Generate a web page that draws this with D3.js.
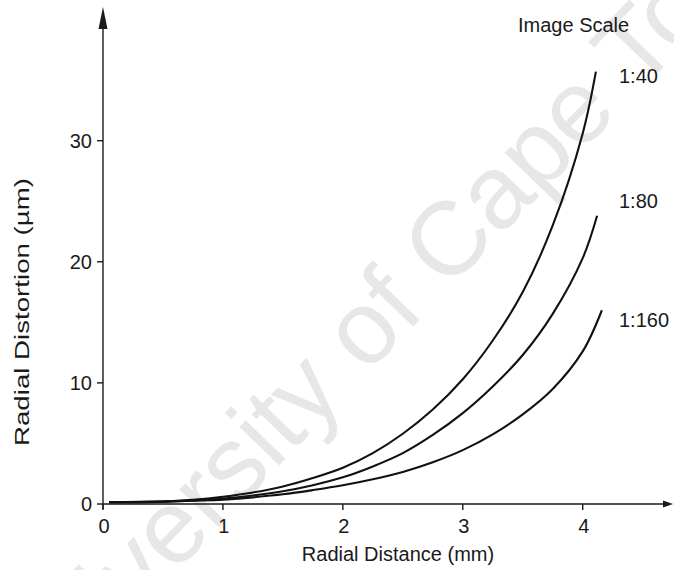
<!DOCTYPE html>
<html>
<head>
<meta charset="utf-8">
<script src="https://cdn.jsdelivr.net/npm/d3@7"></script>
<style>
  body { margin: 0; background: #fff; }
  svg { display: block; font-family: "Liberation Sans", Arial, sans-serif; }
</style>
</head>
<body>
<svg width="674" height="570"></svg>
<script>
// radial distance (mm) and distortion (µm) for each image scale
var scales = ["1:40", "1:80", "1:160"];
var dist40 = [0.05, 0.5, 0.75, 1.0, 1.25, 1.5, 1.75, 2.0, 2.25, 2.5, 2.75, 3.0, 3.25, 3.5, 3.75, 4.0, 4.11];
var dist80 = [0.05, 0.5, 0.75, 1.0, 1.25, 1.5, 1.75, 2.0, 2.25, 2.5, 2.75, 3.0, 3.25, 3.5, 3.75, 4.0, 4.12];
var dist160 = [0.05, 0.5, 0.75, 1.0, 1.25, 1.5, 1.75, 2.0, 2.25, 2.5, 2.75, 3.0, 3.25, 3.5, 3.75, 4.0, 4.16];
var err40 = [0.15, 0.2, 0.35, 0.6, 0.95, 1.45, 2.15, 3.0, 4.2, 5.8, 7.8, 10.3, 13.5, 17.5, 23.0, 30.6, 35.7];
var err80 = [0.15, 0.2, 0.3, 0.45, 0.7, 1.05, 1.55, 2.2, 3.1, 4.2, 5.7, 7.5, 9.7, 12.3, 15.7, 20.3, 23.8];
var err160 = [0.15, 0.2, 0.27, 0.35, 0.55, 0.8, 1.15, 1.55, 2.05, 2.65, 3.45, 4.45, 5.75, 7.4, 9.5, 12.6, 16.0];
var xTicks = [0, 1, 2, 3, 4];
var yTicks = [0, 10, 20, 30];

var series = [
  { name: scales[0], x: dist40, y: err40 },
  { name: scales[1], x: dist80, y: err80 },
  { name: scales[2], x: dist160, y: err160 }
];

var svg = d3.select("svg");

var x = d3.scaleLinear().domain([0, 4]).range([103, 582.7]);
var y = d3.scaleLinear().domain([0, 30]).range([504, 140.7]);

// faint watermark behind everything
svg.append("text")
  .attr("transform", "translate(392,296) rotate(-46)")
  .attr("text-anchor", "middle")
  .attr("dy", "0.35em")
  .style("font-size", "104px")
  .style("fill", "#e7e7e7")
  .text("University of Cape Town");

var ink = "#1a1a1a";

// axes with arrow heads
svg.append("line")
  .attr("x1", x(0)).attr("y1", y(0) + 5)
  .attr("x2", x(0)).attr("y2", 20)
  .attr("stroke", ink).attr("stroke-width", 1.4);
svg.append("path")
  .attr("d", "M" + x(0) + ",7L" + (x(0) - 4.5) + ",29L" + (x(0) + 4.5) + ",29Z")
  .attr("fill", ink);

svg.append("line")
  .attr("x1", x(0)).attr("y1", y(0))
  .attr("x2", 664).attr("y2", y(0))
  .attr("stroke", ink).attr("stroke-width", 1.4);
svg.append("path")
  .attr("d", "M673," + y(0) + "L663," + (y(0) - 3.5) + "L663," + (y(0) + 3.5) + "Z")
  .attr("fill", ink);

// ticks and tick labels
svg.selectAll(".xtick")
  .data(xTicks)
  .enter().append("line")
  .attr("class", "xtick")
  .attr("x1", d => x(d)).attr("x2", d => x(d))
  .attr("y1", y(0)).attr("y2", y(0) + 6)
  .attr("stroke", ink).attr("stroke-width", 1.4);

svg.selectAll(".xlab")
  .data(xTicks)
  .enter().append("text")
  .attr("class", "xlab")
  .attr("x", d => x(d) + 1)
  .attr("y", y(0) + 29)
  .attr("text-anchor", "middle")
  .style("font-size", "20px")
  .style("fill", ink)
  .text(d => d);

svg.selectAll(".ytick")
  .data(yTicks)
  .enter().append("line")
  .attr("class", "ytick")
  .attr("x1", x(0) - 6).attr("x2", x(0))
  .attr("y1", d => y(d)).attr("y2", d => y(d))
  .attr("stroke", ink).attr("stroke-width", 1.4);

svg.selectAll(".ylab")
  .data(yTicks)
  .enter().append("text")
  .attr("class", "ylab")
  .attr("x", x(0) - 11)
  .attr("y", d => y(d))
  .attr("dy", "0.36em")
  .attr("text-anchor", "end")
  .style("font-size", "20px")
  .style("fill", ink)
  .text(d => d);

// axis titles
svg.append("text")
  .attr("x", 398).attr("y", 561)
  .attr("text-anchor", "middle")
  .style("font-size", "20px")
  .style("fill", ink)
  .text("Radial Distance (mm)");

svg.append("text")
  .attr("transform", "translate(29,312) rotate(-90)")
  .attr("text-anchor", "middle")
  .attr("textLength", 268)
  .attr("lengthAdjust", "spacingAndGlyphs")
  .style("font-size", "20px")
  .style("fill", ink)
  .text("Radial Distortion (\u00b5m)");

// distortion curves
var line = d3.line()
  .x(d => x(d[0]))
  .y(d => y(d[1]))
  .curve(d3.curveCatmullRom.alpha(0.5));

svg.selectAll(".curve")
  .data(series)
  .enter().append("path")
  .attr("class", "curve")
  .attr("d", s => line(d3.zip(s.x, s.y)))
  .attr("fill", "none")
  .attr("stroke", "#111")
  .attr("stroke-width", 2.1);

// curve labels
svg.append("text")
  .attr("x", 518).attr("y", 32)
  .style("font-size", "20px")
  .style("fill", ink)
  .text("Image Scale");

var labelY = [83, 208, 327];
svg.selectAll(".scale")
  .data(series)
  .enter().append("text")
  .attr("class", "scale")
  .attr("x", 619)
  .attr("y", (d, i) => labelY[i])
  .style("font-size", "20px")
  .style("fill", ink)
  .text(d => d.name);
</script>
</body>
</html>
